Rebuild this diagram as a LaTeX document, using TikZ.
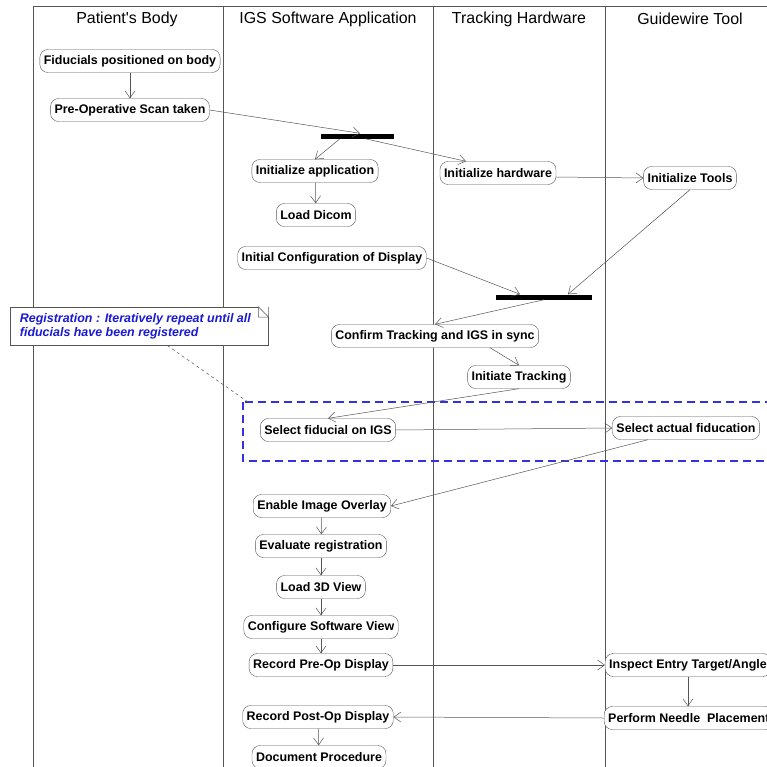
\documentclass[tikz,border=0pt]{standalone}
\usepackage{fontspec}
\setmainfont{Liberation Sans}
\usetikzlibrary{arrows.meta}

\definecolor{lanegray}{RGB}{85,85,85}
\definecolor{noteblue}{RGB}{25,25,215}
\definecolor{loopblue}{RGB}{50,50,225}

\tikzset{
  activity/.style={draw=lanegray, fill=white, rounded corners=8bp, inner xsep=4bp, inner ysep=0pt,
    minimum height=23bp, font=\fontsize{12.5}{14}\selectfont\bfseries},
  flow/.style={draw=lanegray, line width=0.5pt, -{Straight Barb[length=7bp,width=10bp]}},
  syncbar/.style={fill=black, inner sep=0pt, minimum height=5bp, minimum width=#1},
  lanehead/.style={font=\fontsize{16}{18}\selectfont},
}

\begin{document}
\begin{tikzpicture}[x=1bp, y=-1bp]
  \useasboundingbox (0,0) rectangle (767,767);
  \clip (0,0) rectangle (767,767);
  \fill[white] (0,0) rectangle (767,767);

  % swim lanes
  \draw[lanegray, line width=0.6pt] (33,780) -- (33,6) -- (780,6);
  \foreach \x in {223,433,605}
    \draw[lanegray, line width=0.6pt] (\x,6) -- (\x,780);

  \node[lanehead] (hbody)  at (127,19) {Patient\textquotesingle s Body};
  \node[lanehead] (higs)   at (328,19) {IGS Software Application};
  \node[lanehead] (htrack) at (519,19) {Tracking Hardware};
  \node[lanehead] (htool)  at (690,19) {Guidewire Tool};

  % registration loop
  \coordinate (loopnw) at (243,402);
  \coordinate (loopse) at (800,461);
  \draw[draw=loopblue, line width=1.2bp, dash pattern=on 8bp off 5bp] (loopnw) rectangle (loopse);

  % activities
  \node[activity] (fiducials) at (130,61)  {Fiducials positioned on body};
  \node[activity] (preop)     at (130,110) {Pre-Operative Scan taken};
  \node[syncbar=73bp] (fork)  at (357,136) {};
  \node[activity] (initapp)   at (315,171) {Initialize application};
  \node[activity] (dicom)     at (316,215) {Load Dicom};
  \node[activity] (inithw)    at (498,173) {Initialize hardware};
  \node[activity] (inittools) at (690,178) {Initialize Tools};
  \node[activity] (initdisp)  at (332,258) {Initial Configuration of Display};
  \node[syncbar=96bp] (join)  at (544,297) {};
  \node[activity] (sync)      at (435,336) {Confirm Tracking and IGS in sync};
  \node[activity] (tracking)  at (519,377) {Initiate Tracking};
  \node[activity] (seligs)    at (328,430) {Select fiducial on IGS};
  \node[activity] (selreal)   at (686,428) {Select actual fiducation};
  \node[activity] (overlay)   at (322,506) {Enable Image Overlay};
  \node[activity] (evalreg)   at (321,546) {Evaluate registration};
  \node[activity] (view3d)    at (321,587) {Load 3D View};
  \node[activity] (confview)  at (321,627) {Configure Software View};
  \node[activity] (preopdisp) at (321,665) {Record Pre-Op Display};
  \node[activity, anchor=west] (inspect) at (605,665) {Inspect Entry Target/Angle};
  \node[activity, anchor=west] (needle)  at (604,718) {Perform Needle\ \ Placement};
  \node[activity] (postop)    at (318,717) {Record Post-Op Display};
  \node[activity] (docproc)   at (319,757) {Document Procedure};

  % note
  \node[draw=lanegray, fill=white, anchor=north west, minimum width=258bp, minimum height=38bp,
    inner xsep=5bp, inner ysep=3bp, align=left, text=noteblue,
    font=\fontsize{12.5}{14.5}\selectfont\bfseries\itshape] (note) at (10,307)
    {Registration : Iteratively repeat until all\\fiducials have been registered\hspace*{60bp}};
  \fill[white] ([xshift=-10bp]note.north east) -- (note.north east) -- ([yshift=-10bp]note.north east) -- cycle;
  \draw[lanegray, line width=0.5pt] ([xshift=-10bp]note.north east) -- ([yshift=-10bp]note.north east)
    -- ([xshift=-10bp,yshift=-10bp]note.north east) -- cycle;
  \draw[lanegray, dashed, line width=0.5pt] ([xshift=28bp]note.south) -- ([xshift=5bp]loopnw);

  % control flow
  \draw[flow] (fiducials) -- (preop);
  \draw[flow] (preop.east) -- ([xshift=3bp]fork.north);
  \draw[flow] ([xshift=-17bp]fork.south) -- (initapp.north);
  \draw[flow] ([xshift=8bp]fork.south) -- ([xshift=-32bp]inithw.north);
  \draw[flow] (initapp) -- (dicom);
  \draw[flow] ([yshift=-4bp]inithw.east) -- (inittools.west);
  \draw[flow] (inittools.south) -- ([xshift=24bp]join.north);
  \draw[flow] (initdisp.east) -- ([xshift=-24bp]join.north);
  \draw[flow] (join.south) -- (sync.north);
  \draw[flow] ([xshift=55bp]sync.south) -- (tracking.north);
  \draw[flow] (tracking.south) -- (seligs.north);
  \draw[flow] (seligs.east) -- (selreal.west);
  \draw[flow] ([xshift=-38bp]selreal.south) -- (overlay.east);
  \draw[flow] (overlay) -- (evalreg);
  \draw[flow] (evalreg) -- (view3d);
  \draw[flow] (view3d) -- (confview);
  \draw[flow] (confview) -- (preopdisp);
  \draw[flow] (preopdisp.east) -- (inspect.west);
  \draw[flow] (inspect.south) -- (inspect.south |- needle.north);
  \draw[flow] (needle.west) -- (postop.east);
  \draw[flow] (postop) -- (docproc);
\end{tikzpicture}
\end{document}
